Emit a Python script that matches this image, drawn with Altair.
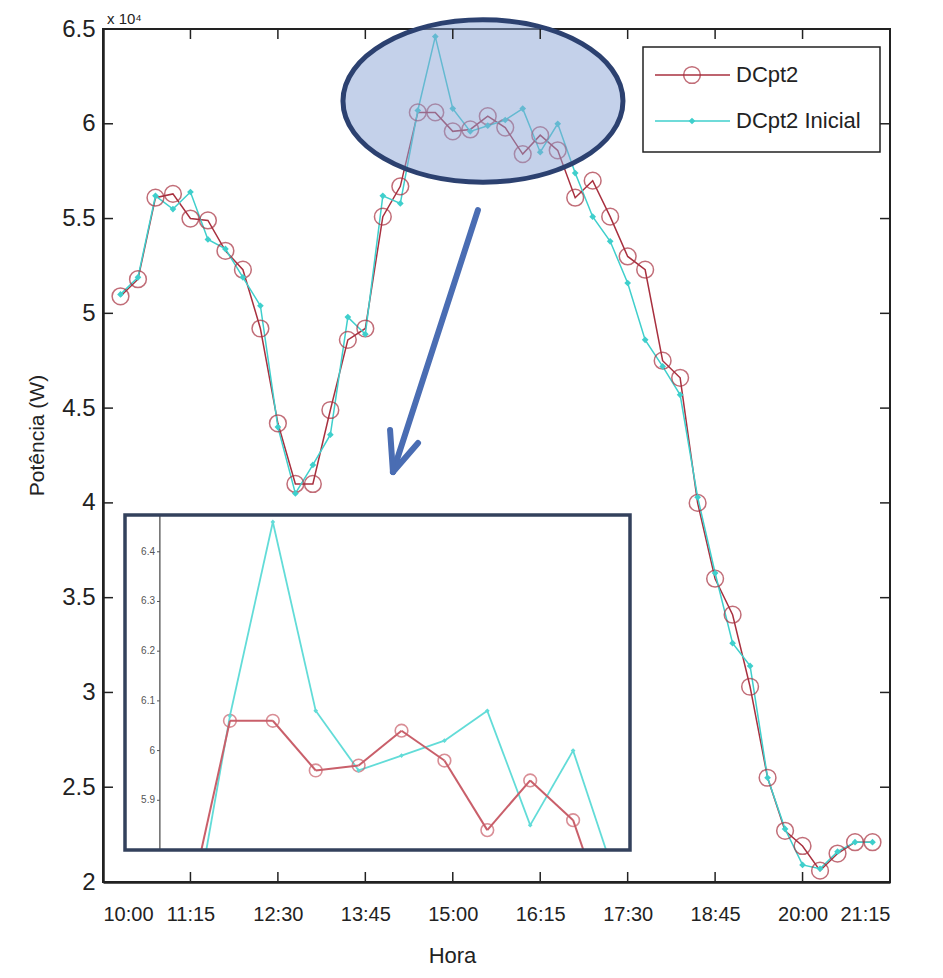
import altair as alt
import pandas as pd

# ---------------- data ----------------
times = ["10:15", "10:30", "10:45", "11:00", "11:15", "11:30", "11:45", "12:00",
         "12:15", "12:30", "12:45", "13:00", "13:15", "13:30", "13:45", "14:00",
         "14:15", "14:30", "14:45", "15:00", "15:15", "15:30", "15:45", "16:00",
         "16:15", "16:30", "16:45", "17:00", "17:15", "17:30", "17:45", "18:00",
         "18:15", "18:30", "18:45", "19:00", "19:15", "19:30", "19:45", "20:00",
         "20:15", "20:30", "20:45", "21:00"]
dcpt2 = [5.09, 5.18, 5.61, 5.63, 5.50, 5.49, 5.33, 5.23, 4.92, 4.42, 4.10, 4.10,
         4.49, 4.86, 4.92, 5.51, 5.67, 6.06, 6.06, 5.96, 5.97, 6.04, 5.98, 5.84,
         5.94, 5.86, 5.61, 5.70, 5.51, 5.30, 5.23, 4.75, 4.66, 4.00, 3.60, 3.41,
         3.03, 2.55, 2.27, 2.19, 2.06, 2.15, 2.21, 2.21]
dcpt2_inicial = [5.10, 5.19, 5.62, 5.55, 5.64, 5.39, 5.34, 5.19, 5.04, 4.40, 4.05, 4.20,
                 4.36, 4.98, 4.89, 5.62, 5.58, 6.07, 6.46, 6.08, 5.96, 5.99, 6.02, 6.08,
                 5.85, 6.00, 5.74, 5.51, 5.38, 5.16, 4.86, 4.72, 4.57, 4.03, 3.63, 3.26,
                 3.14, 2.55, 2.28, 2.09, 2.07, 2.16, 2.21, 2.21]
x_tick_labels = ["10:00", "11:15", "12:30", "13:45", "15:00", "16:15",
                 "17:30", "18:45", "20:00", "21:15"]
y_tick_values = [2, 2.5, 3, 3.5, 4, 4.5, 5, 5.5, 6, 6.5]
inset_tick_values = [5.9, 6.0, 6.1, 6.2, 6.3, 6.4]
legend_labels = ["DCpt2", "DCpt2 Inicial"]
y_title = "Potência (W)"
x_title = "Hora"
exponent_label = "x 10⁴"

# ---------------- layout / style ----------------
W, H = 787, 853
RED = "#a8303f"
CYAN = "#3fcfcc"
RED_IN = "#c95f6a"
CYAN_IN = "#62dcd8"
NAVY = "#2c4170"
ARROW = "#4a6db3"
FONT = "Liberation Sans, Arial, sans-serif"


def to_min(s):
    h, m = s.split(":")
    return int(h) * 60 + int(m)


X_DOM = [to_min(x_tick_labels[0]), to_min(x_tick_labels[-1])]
Y_DOM = [y_tick_values[0], y_tick_values[-1]]
INSET_X_DOM = [833.3, 1009.9]
INSET_Y_DOM = [5.80, 6.474]
INSET_X_RANGE = [22, 527]
INSET_Y_RANGE = [821, 486]
INSET_AXIS_T = 845.5

# ellipse / arrow annotation anchors (data coordinates)
ELL_CENTER = (925.9, 6.12)
ELL_SIZE = 78400
ELL_PATH = "M -1 0 A 1 0.58 0 1 1 1 0 A 1 0.58 0 1 1 -1 0 Z"
ARROW_SHAFT = [(921.6, 5.545, 848.7, 4.163)]
ARROW_HEAD = [(848.7, 4.163, 846.2, 4.385), (848.7, 4.163, 870.2, 4.316)]

tmin = [to_min(t) for t in times]
df_red = pd.DataFrame({"t": tmin, "v": dcpt2, "hora": times})
df_cyan = pd.DataFrame({"t": tmin, "v": dcpt2_inicial, "hora": times})
df_xt = pd.DataFrame({"t": [to_min(s) for s in x_tick_labels]})
df_yt = pd.DataFrame({"v": y_tick_values})

label_expr = ("floor(datum.value/60) + ':' + (datum.value % 60 < 10 ? '0' : '') + (datum.value % 60)")

x_axis = alt.Axis(values=[to_min(s) for s in x_tick_labels], labelExpr=label_expr,
                  ticks=False, grid=False, labelOverlap=False, labelFont=FONT,
                  labelFontSize=20, labelPadding=22, labelColor="#222",
                  domainColor="#222", domainWidth=2.5,
                  title=x_title, titleFont=FONT, titleFontSize=22, titleFontWeight="normal",
                  titleColor="#222", titleX=349, titleY=80, titleBaseline="alphabetic",
                  titleAlign="center")
y_axis = alt.Axis(values=y_tick_values, format="~g", ticks=False, grid=False,
                  labelFont=FONT, labelFontSize=24, labelPadding=8, labelColor="#222",
                  domainColor="#222", domainWidth=2.5,
                  title=y_title, titleFont=FONT, titleFontSize=21, titleFontWeight="normal",
                  titleColor="#222", titleX=-66, titleY=406, titleAngle=270,
                  titleAlign="center", titleBaseline="middle")

X = alt.X("t:Q", scale=alt.Scale(domain=X_DOM, nice=False, zero=False), axis=x_axis)
Y = alt.Y("v:Q", scale=alt.Scale(domain=Y_DOM, nice=False, zero=False), axis=y_axis)

# ---------------- main panel ----------------
red_line = alt.Chart(df_red).mark_line(color=RED, strokeWidth=1.5).encode(x=X, y=Y)
cyan_line = alt.Chart(df_cyan).mark_line(color=CYAN, strokeWidth=1.5).encode(x=X, y=Y)
red_pts = alt.Chart(df_red).mark_point(shape="circle", size=280, filled=False,
                                       color=RED, strokeWidth=1.5).encode(x=X, y=Y)
cyan_pts = alt.Chart(df_cyan).mark_point(shape="diamond", size=45, filled=True,
                                         color=CYAN, opacity=1).encode(x=X, y=Y)

tick_bottom = alt.Chart(df_xt).mark_rule(color="#222", strokeWidth=1.5).encode(
    x=X, y=alt.value(H), y2=alt.value(H - 10))
tick_top = alt.Chart(df_xt).mark_rule(color="#222", strokeWidth=1.5).encode(
    x=X, y=alt.value(0), y2=alt.value(10))
tick_left = alt.Chart(df_yt).mark_rule(color="#222", strokeWidth=1.5).encode(
    y=Y, x=alt.value(0), x2=alt.value(10))
tick_right = alt.Chart(df_yt).mark_rule(color="#222", strokeWidth=1.5).encode(
    y=Y, x=alt.value(W), x2=alt.value(W - 10))

df_ell = pd.DataFrame({"t": [ELL_CENTER[0]], "v": [ELL_CENTER[1]]})
ellipse = alt.Chart(df_ell).mark_point(shape=ELL_PATH, size=ELL_SIZE, filled=True,
                                       fill="#8aa3d6", fillOpacity=0.5, stroke=NAVY,
                                       strokeOpacity=1, strokeWidth=5).encode(x=X, y=Y)

df_arrow = pd.DataFrame(ARROW_SHAFT + ARROW_HEAD, columns=["t", "v", "t2", "v2"])
arrow = alt.Chart(df_arrow).mark_rule(color=ARROW, strokeWidth=6, strokeCap="round").encode(
    x=X, y=Y, x2="t2:Q", y2="v2:Q")

exp_txt = alt.Chart(pd.DataFrame({"s": [exponent_label]})).mark_text(
    align="left", baseline="alphabetic", font=FONT, fontSize=15, color="#222").encode(
    x=alt.value(4), y=alt.value(-5), text="s:N")

# legend (drawn manually, matlab style)
leg_box = alt.Chart(pd.DataFrame({"a": [0]})).mark_rect(
    fill="white", stroke="#222", strokeWidth=1.5).encode(
    x=alt.value(540), x2=alt.value(777), y=alt.value(18), y2=alt.value(123))
legend_layers = [leg_box]
for i, (lab, col) in enumerate(zip(legend_labels, [RED, CYAN])):
    yy = 46 + i * 46
    d = pd.DataFrame({"label": [lab]})
    legend_layers.append(alt.Chart(d).mark_rule(color=col, strokeWidth=1.5).encode(
        x=alt.value(552), x2=alt.value(627), y=alt.value(yy)))
    if i == 0:
        legend_layers.append(alt.Chart(d).mark_point(shape="circle", size=280, filled=False,
                                                     color=col, strokeWidth=1.5).encode(
            x=alt.value(589), y=alt.value(yy)))
    else:
        legend_layers.append(alt.Chart(d).mark_point(shape="diamond", size=45, filled=True,
                                                     color=col, opacity=1).encode(
            x=alt.value(589), y=alt.value(yy)))
    legend_layers.append(alt.Chart(d).mark_text(align="left", baseline="middle", font=FONT,
                                                fontSize=22, color="#222").encode(
        x=alt.value(633), y=alt.value(yy), text="label:N"))

main = alt.layer(red_line, cyan_line, red_pts, cyan_pts, ellipse, arrow,
                 tick_bottom, tick_top, tick_left, tick_right, exp_txt, *legend_layers)

# ---------------- inset (zoomed view) ----------------
XI = alt.X("t:Q", scale=alt.Scale(domain=INSET_X_DOM, range=INSET_X_RANGE, nice=False, zero=False), axis=None)
YI = alt.Y("v:Q", scale=alt.Scale(domain=INSET_Y_DOM, range=INSET_Y_RANGE, nice=False, zero=False), axis=None)


def clip_seg(x1, y1, x2, y2):
    xmin, xmax = INSET_X_DOM
    ymin, ymax = INSET_Y_DOM
    dx, dy = x2 - x1, y2 - y1
    t0, t1 = 0.0, 1.0
    for p, q in ((-dx, x1 - xmin), (dx, xmax - x1), (-dy, y1 - ymin), (dy, ymax - y1)):
        if p == 0:
            if q < 0:
                return None
        else:
            r = q / p
            if p < 0:
                t0 = max(t0, r)
            else:
                t1 = min(t1, r)
    if t0 > t1:
        return None
    return (x1 + t0 * dx, y1 + t0 * dy, x1 + t1 * dx, y1 + t1 * dy)


def segments(values):
    rows = []
    for i in range(len(tmin) - 1):
        c = clip_seg(tmin[i], values[i], tmin[i + 1], values[i + 1])
        if c is not None:
            rows.append(c)
    return pd.DataFrame(rows, columns=["t", "v", "t2", "v2"])


def inside(df):
    return df[(df.t >= INSET_X_DOM[0]) & (df.t <= INSET_X_DOM[1]) &
              (df.v >= INSET_Y_DOM[0]) & (df.v <= INSET_Y_DOM[1])]


df_box = pd.DataFrame({"t": [INSET_X_DOM[0]], "t2": [INSET_X_DOM[1]],
                       "v": [INSET_Y_DOM[0]], "v2": [INSET_Y_DOM[1]]})
inset_bg = alt.Chart(df_box).mark_rect(fill="white", stroke=None).encode(
    x=XI, x2="t2:Q", y=YI, y2="v2:Q")
inset_frame = alt.Chart(df_box).mark_rect(fill=None, stroke="#33415c", strokeWidth=3.5).encode(
    x=XI, x2="t2:Q", y=YI, y2="v2:Q")
df_iax = pd.DataFrame({"t": [INSET_AXIS_T], "v": [INSET_Y_DOM[0]], "v2": [INSET_Y_DOM[1]]})
inset_axis = alt.Chart(df_iax).mark_rule(color="#444", strokeWidth=1.2).encode(
    x=XI, y=YI, y2="v2:Q")
df_it = pd.DataFrame({"v": inset_tick_values})
inset_ticks = alt.Chart(df_it).mark_rule(color="#555", strokeWidth=1).encode(
    y=YI, x=alt.value(54), x2=alt.value(57))
inset_labels = alt.Chart(df_it).mark_text(align="right", baseline="middle", font=FONT,
                                          fontSize=10, color="#555").encode(
    y=YI, x=alt.value(52), text=alt.Text("v:Q", format="~g"))

red_seg = alt.Chart(segments(dcpt2)).mark_rule(color=RED_IN, strokeWidth=2).encode(
    x=XI, y=YI, x2="t2:Q", y2="v2:Q")
cyan_seg = alt.Chart(segments(dcpt2_inicial)).mark_rule(color=CYAN_IN, strokeWidth=1.8).encode(
    x=XI, y=YI, x2="t2:Q", y2="v2:Q")
red_ipts = alt.Chart(inside(df_red)).mark_point(shape="circle", size=160, filled=False,
                                                color=RED_IN, strokeWidth=1.6).encode(x=XI, y=YI)
cyan_ipts = alt.Chart(inside(df_cyan)).mark_point(shape="diamond", size=22, filled=True,
                                                  color=CYAN_IN, opacity=1).encode(x=XI, y=YI)

inset = alt.layer(inset_bg, inset_axis, inset_ticks, inset_labels, cyan_seg, red_seg,
                  red_ipts, cyan_ipts, inset_frame)

chart = alt.layer(main, inset).resolve_scale(x="independent", y="independent").properties(
    width=W, height=H,
    padding={"left": 95, "top": 21, "right": 40, "bottom": 88},
    autosize=alt.AutoSizeParams(type="none"),
    background="white",
).configure_view(stroke="#222", strokeWidth=2)

chart.save("out.html", embed_options={"renderer": "svg", "actions": False})
